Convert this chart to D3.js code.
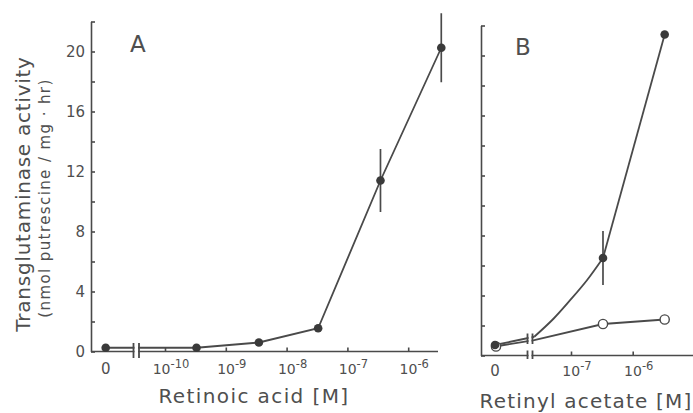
<!DOCTYPE html>
<html>
<head>
<meta charset="utf-8">
<script src="https://cdn.jsdelivr.net/npm/d3@7"></script>
<style>
  html, body { margin: 0; padding: 0; background: #fff; }
  svg { display: block; }
  text { font-family: "DejaVu Sans", sans-serif; fill: #4f4f4f; }
</style>
</head>
<body>
<svg id="chart" width="693" height="413"></svg>
<script>
// ---------- data ----------
// Panel A: retinoic acid
const concA   = [0, 3.3e-10, 3.5e-9, 3.3e-8, 3.5e-7, 3.5e-6];
const valueA  = [0.25, 0.25, 0.6, 1.55, 11.4, 20.25];
const errA    = [0, 0, 0, 0, 2.1, 2.3];

// Panel B: retinyl acetate
const concB        = [0, 3.3e-7, 3.3e-6];
const valueFilledB = [0.7, 6.5, 21.4];
const errFilledB   = [0, 1.8, 0];
const valueOpenB   = [0.6, 2.1, 2.4];
const errOpenB     = [0.3, 0, 0];
// hand-drawn curve of the filled series (from the axis break up to 3.3e-7 M)
const curveConcB   = [2.54e-8, 5.2e-8, 9.6e-8, 1.8e-7, 3.3e-7];
const curveValueB  = [1.25, 2.45, 3.67, 5.0, 6.5];
// start of the open series after the break
const openStartConcB  = 2.54e-8;
const openStartValueB = 1.03;

// axes
const yTicks      = [0, 2, 4, 6, 8, 10, 12, 14, 16, 18, 20, 22];
const yLabelTicks = [0, 4, 8, 12, 16, 20];
const xDecadesA   = [1e-10, 1e-9, 1e-8, 1e-7, 1e-6];
const xExpA       = ["-10", "-9", "-8", "-7", "-6"];
const xDecadesB   = [1e-7, 1e-6];
const xExpB       = ["-7", "-6"];

// ---------- drawing ----------
const svg = d3.select("#chart");
const ink = "#4a4a4a";

function panel(opt) {
  const g = svg.append("g");
  const y = d3.scaleLinear().domain([0, 22]).range([opt.y0, opt.y0 - 22 * 15]);
  const x = d3.scaleLog().domain(opt.logDomain).range(opt.logRange);
  const px = c => c === 0 ? opt.zeroX : x(c);

  // y axis
  const ya = g.append("g").attr("transform", `translate(${opt.axisX},0)`)
    .call(d3.axisLeft(y).tickValues(yTicks).tickSize(-4).tickSizeOuter(0).tickPadding(6)
      .tickFormat(d => opt.yLabels && yLabelTicks.includes(d) ? d : ""));
  ya.selectAll("path,line").attr("stroke", ink).attr("stroke-width", 1.6);
  ya.selectAll("text").attr("font-size", 15).attr("font-family", "DejaVu Sans").attr("fill", "#555");

  // x axis ticks
  const xa = g.append("g").attr("transform", `translate(0,${opt.y0})`)
    .call(d3.axisBottom(x).tickValues(opt.decades).tickSize(-4).tickSizeOuter(0).tickFormat(""));
  xa.select(".domain").remove();
  xa.selectAll("line").attr("stroke", ink).attr("stroke-width", 1.6);

  // x axis line (with break)
  g.append("line").attr("x1", opt.axisX).attr("x2", opt.axisEnd)
    .attr("y1", opt.y0).attr("y2", opt.y0).attr("stroke", ink).attr("stroke-width", 1.6);

  // x tick labels
  const lab = g.append("g");
  lab.append("text").attr("x", opt.zeroX).attr("y", opt.y0 + opt.labDy)
    .attr("text-anchor", "middle").attr("font-size", 15).attr("fill", "#555").text("0");
  opt.decades.forEach((d, i) => {
    const t = lab.append("text").attr("x", x(d) + 6).attr("y", opt.y0 + opt.labDy)
      .attr("text-anchor", "middle").attr("font-size", 14).attr("fill", "#555");
    t.append("tspan").text("10");
    t.append("tspan").attr("dy", -6).attr("font-size", 11.5).text(opt.exps[i]);
  });

  return { g, x, y, px };
}

function line(g, pts, curve) {
  g.append("path").datum(pts)
    .attr("d", d3.line().x(d => d[0]).y(d => d[1]).curve(curve || d3.curveLinear))
    .attr("fill", "none").attr("stroke", ink).attr("stroke-width", 1.8);
}

function breakMark(g, xl, xr, y1, y2, gy1, gy2) {
  g.append("rect").attr("x", xl + 1).attr("width", xr - xl - 2)
    .attr("y", gy1).attr("height", gy2 - gy1).attr("fill", "#fff");
  [xl, xr].forEach(xx => g.append("line").attr("x1", xx).attr("x2", xx)
    .attr("y1", y1).attr("y2", y2).attr("stroke", ink).attr("stroke-width", 1.8));
}

function errBar(g, xx, y, v, e) {
  if (!e) return;
  g.append("line").attr("x1", xx).attr("x2", xx).attr("y1", y(v - e)).attr("y2", y(v + e))
    .attr("stroke", ink).attr("stroke-width", 1.7);
}

// ----- Panel A -----
const A = panel({
  y0: 351.5, axisX: 91, axisEnd: 438, zeroX: 105.7,
  logDomain: [1e-10, 1e-6], logRange: [165, 408.2],
  decades: xDecadesA, exps: xExpA, yLabels: true, labDy: 22
});
line(A.g, concA.map((c, i) => [A.px(c), A.y(valueA[i])]));
breakMark(A.g, 133.5, 139, 343, 358, 340, 360);
concA.forEach((c, i) => errBar(A.g, A.px(c), A.y, valueA[i], errA[i]));
A.g.selectAll(".dotA").data(concA).join("circle")
  .attr("cx", d => A.px(d)).attr("cy", (d, i) => A.y(valueA[i])).attr("r", 4.3)
  .attr("fill", "#3a3a3a");

// ----- Panel B -----
const B = panel({
  y0: 355.5, axisX: 481, axisEnd: 693, zeroX: 495,
  logDomain: [1e-7, 1e-6], logRange: [571, 632.7],
  decades: xDecadesB, exps: xExpB, yLabels: false, labDy: 20
});
// filled series: straight to break, hand curve, straight to last point
line(B.g, [[B.px(0), B.y(valueFilledB[0])], [B.px(curveConcB[0]), B.y(curveValueB[0])]]);
line(B.g, curveConcB.map((c, i) => [B.px(c), B.y(curveValueB[i])]), d3.curveCatmullRom);
line(B.g, [[B.px(concB[1]), B.y(valueFilledB[1])], [B.px(concB[2]), B.y(valueFilledB[2])]]);
// open series
line(B.g, [[B.px(0), B.y(valueOpenB[0])], [B.px(openStartConcB), B.y(openStartValueB)],
           [B.px(concB[1]), B.y(valueOpenB[1])], [B.px(concB[2]), B.y(valueOpenB[2])]]);
// breaks
breakMark(B.g, 527.5, 532.5, 350.5, 359, 348, 362);
breakMark(B.g, 527.5, 532.5, 333.5, 344, 328, 346);
concB.forEach((c, i) => errBar(B.g, B.px(c), B.y, valueFilledB[i], errFilledB[i]));
concB.forEach((c, i) => errBar(B.g, B.px(c) + 1, B.y, valueOpenB[i], errOpenB[i]));
B.g.selectAll(".openB").data(concB).join("circle")
  .attr("cx", (d, i) => B.px(d) + (i === 0 ? 1 : 0)).attr("cy", (d, i) => B.y(valueOpenB[i]))
  .attr("r", 4.6).attr("fill", "#fff").attr("stroke", ink).attr("stroke-width", 1.4);
B.g.selectAll(".filledB").data(concB).join("circle")
  .attr("cx", d => B.px(d)).attr("cy", (d, i) => B.y(valueFilledB[i])).attr("r", 4.3)
  .attr("fill", "#3a3a3a");

// ---------- texts ----------
svg.append("text").attr("x", 130).attr("y", 51.5).attr("font-size", 23).text("A");
svg.append("text").attr("x", 515).attr("y", 55).attr("font-size", 23).text("B");

svg.append("text").attr("x", 254).attr("y", 403).attr("text-anchor", "middle")
  .attr("font-size", 20).attr("letter-spacing", 1.4).text("Retinoic acid [M]");
svg.append("text").attr("x", 586).attr("y", 408).attr("text-anchor", "middle")
  .attr("font-size", 20).attr("letter-spacing", 1.2).text("Retinyl acetate [M]");

svg.append("text").attr("transform", "translate(30,194) rotate(-90)")
  .attr("text-anchor", "middle").attr("font-size", 20).attr("letter-spacing", 0.75)
  .text("Transglutaminase activity");
svg.append("text").attr("transform", "translate(50,198) rotate(-90)")
  .attr("text-anchor", "middle").attr("font-size", 15).attr("letter-spacing", 1.4)
  .text("(nmol putrescine / mg · hr)");
</script>
</body>
</html>
